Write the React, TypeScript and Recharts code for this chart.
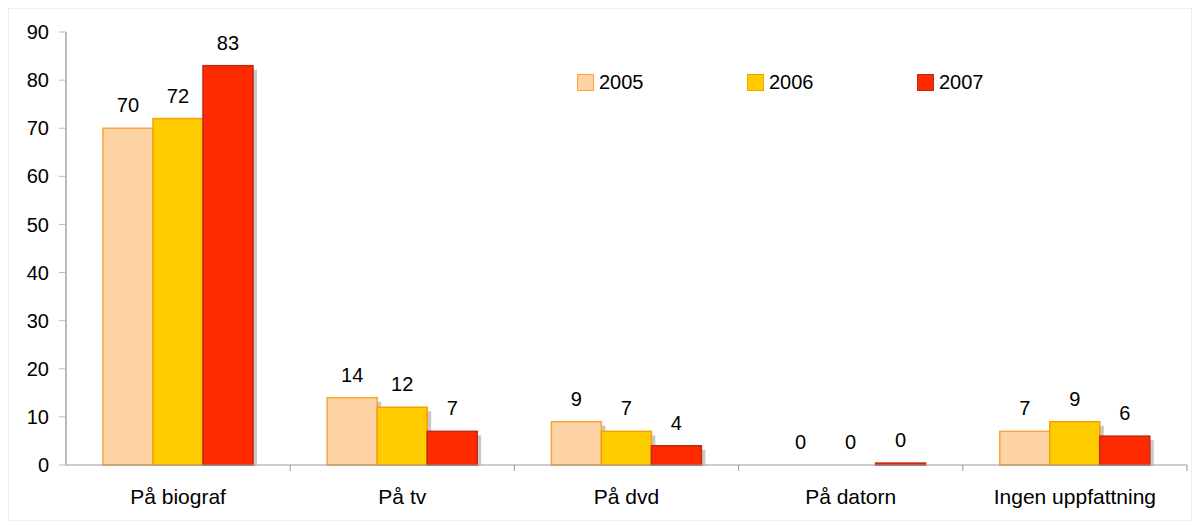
import { BarChart, Bar, XAxis, YAxis, LabelList } from 'recharts';

const categories = ['På biograf', 'På tv', 'På dvd', 'På datorn', 'Ingen uppfattning'];
const values2005 = [70, 14, 9, 0, 7];
const values2006 = [72, 12, 7, 0, 9];
const values2007 = [83, 7, 4, 0.4, 6];
const yTicks = [0, 10, 20, 30, 40, 50, 60, 70, 80, 90];

const series = [
  { key: 'y2005', name: '2005', fill: '#FDD3A6', stroke: '#F8A53A' },
  { key: 'y2006', name: '2006', fill: '#FFCC00', stroke: '#F5A000' },
  { key: 'y2007', name: '2007', fill: '#FF2A00', stroke: '#C02A10' },
];

const data = categories.map((name, i) => ({
  name,
  y2005: values2005[i],
  y2006: values2006[i],
  y2007: values2007[i],
}));

const CHART_W = 1184;
const CHART_H = 509;
const MARGIN = { top: 23, right: 6, bottom: 0, left: 0 };
const Y_W = 57;
const plotWidth = CHART_W - MARGIN.left - MARGIN.right - Y_W;
const band = plotWidth / categories.length;

const font = '"Liberation Sans", Arial, sans-serif';

function ShadowBar(props: any) {
  const { x, y, width, height, fill, stroke } = props;
  if (!height || height <= 0) return null;
  return (
    <g>
      {height > 4 && (
        <rect x={x + 4} y={y + 4} width={width} height={height - 4} fill="#c9c9c9" />
      )}
      <rect x={x} y={y} width={width} height={height} fill={fill} stroke={stroke} strokeWidth={1.5} />
    </g>
  );
}

function CategoryTick(props: any) {
  const { x, y, payload } = props;
  return (
    <g>
      <line x1={x + band / 2} y1={y - 8} x2={x + band / 2} y2={y - 2} stroke="#999" />
      <text x={x} y={y + 31} textAnchor="middle" fontSize={21} fill="#000" fontFamily={font}>
        {payload.value}
      </text>
    </g>
  );
}

function LegendBox() {
  return (
    <div style={{ position: 'absolute', left: 568, top: 62, display: 'flex', fontFamily: font, fontSize: 20 }}>
      {series.map((s) => (
        <div key={s.key} style={{ display: 'flex', alignItems: 'center', width: 170 }}>
          <span style={{ display: 'inline-block', width: 15, height: 15, background: s.fill, border: `1px solid ${s.stroke}`, marginRight: 5 }} />
          <span>{s.name}</span>
        </div>
      ))}
    </div>
  );
}

export default function App() {
  return (
    <div style={{ position: 'relative', width: CHART_W, height: CHART_H + 4, border: '1px solid #eee', boxSizing: 'border-box' }}>
      <BarChart
        width={CHART_W}
        height={CHART_H}
        data={data}
        margin={MARGIN}
        barCategoryGap="16.5%"
        barGap={0}
      >
        <XAxis
          dataKey="name"
          axisLine={{ stroke: '#999' }}
          tickLine={false}
          tick={<CategoryTick />}
          height={53}
          interval={0}
        />
        <YAxis
          domain={[0, 90]}
          ticks={yTicks}
          width={Y_W}
          axisLine={{ stroke: '#bbb', strokeWidth: 2 }}
          tickLine={{ stroke: '#bbb' }}
          tickSize={7}
          tickMargin={10}
          tick={{ fontSize: 20, fill: '#000', fontFamily: font }}
          interval={0}
        />
        {series.map((s) => (
          <Bar
            key={s.key}
            dataKey={s.key}
            name={s.name}
            fill={s.fill}
            stroke={s.stroke}
            shape={<ShadowBar />}
            isAnimationActive={false}
          >
            <LabelList
              dataKey={s.key}
              position="top"
              offset={16}
              formatter={(v: any) => Math.round(Number(v))}
              style={{ fontSize: 20, fill: '#000', fontFamily: font }}
            />
          </Bar>
        ))}
      </BarChart>
      <LegendBox />
    </div>
  );
}
